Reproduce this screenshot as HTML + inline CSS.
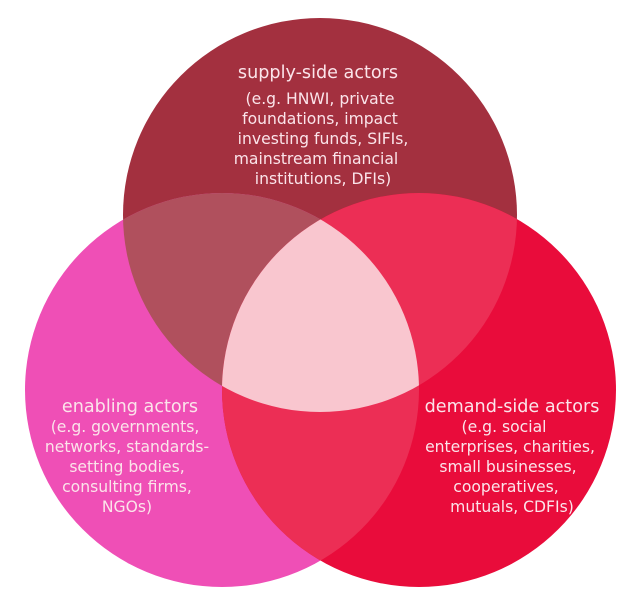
<!DOCTYPE html>
<html><head><style>
html,body{margin:0;padding:0;background:#fff;}
svg{display:block;}
text{font-family:"DejaVu Sans","Liberation Sans",sans-serif;fill:#fbe4ea;text-anchor:middle;}
.t{font-size:17.6px;}
.s{font-size:15.6px;}
</style></head><body>
<svg width="640" height="613" viewBox="0 0 640 613">
<defs>
<clipPath id="cT"><circle cx="320" cy="215" r="197"/></clipPath>
<clipPath id="cL"><circle cx="222" cy="390" r="197"/></clipPath>
<clipPath id="cR"><circle cx="419" cy="390" r="197"/></clipPath>
</defs>
<circle cx="320" cy="215" r="197" fill="#a3303f"/>
<circle cx="222" cy="390" r="197" fill="#ef4fb6"/>
<circle cx="419" cy="390" r="197" fill="#e90c3b"/>
<circle cx="222" cy="390" r="197" fill="#b0505d" clip-path="url(#cT)"/>
<circle cx="419" cy="390" r="197" fill="#ec2e55" clip-path="url(#cT)"/>
<circle cx="419" cy="390" r="197" fill="#ec2e55" clip-path="url(#cL)"/>
<g clip-path="url(#cT)"><g clip-path="url(#cL)"><circle cx="419" cy="390" r="197" fill="#f9c6cf"/></g></g>
<text class="t" x="318" y="78">supply-side actors</text>
<text class="s" x="320" y="104">(e.g. HNWI, private</text>
<text class="s" x="320" y="124">foundations, impact</text>
<text class="s" x="323" y="144">investing funds, SIFIs,</text>
<text class="s" x="316" y="164">mainstream financial</text>
<text class="s" x="323" y="184">institutions, DFIs)</text>
<text class="t" x="130" y="412">enabling actors</text>
<text class="s" x="125" y="432">(e.g. governments,</text>
<text class="s" x="127" y="452">networks, standards-</text>
<text class="s" x="127" y="472">setting bodies,</text>
<text class="s" x="127" y="492">consulting firms,</text>
<text class="s" x="127" y="512">NGOs)</text>
<text class="t" x="512" y="412">demand-side actors</text>
<text class="s" x="504" y="432">(e.g. social</text>
<text class="s" x="510" y="452">enterprises, charities,</text>
<text class="s" x="508" y="472">small businesses,</text>
<text class="s" x="506" y="492">cooperatives,</text>
<text class="s" x="512" y="512">mutuals, CDFIs)</text>
</svg>
</body></html>
